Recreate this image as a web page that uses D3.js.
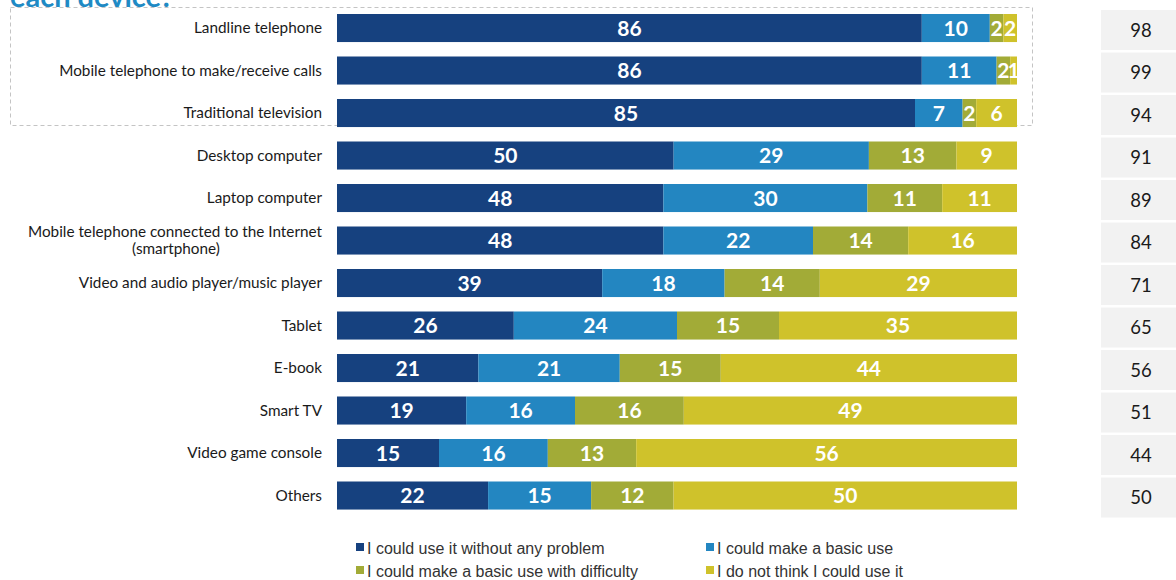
<!DOCTYPE html>
<html lang="en">
<head>
    <meta charset="UTF-8"/>
    <title>Device use</title>
    <script src="https://d3js.org/d3.v7.min.js"></script>
    <style>
        body { margin: 0; background: #fff; }
        svg { display: block; }
    </style>
</head>
<body>
    <div id="chart"></div>

    <script>
        // categories, top to bottom
        var devices = ["Landline telephone", "Mobile telephone to make/receive calls", "Traditional television",
            "Desktop computer", "Laptop computer", "Mobile telephone connected to the Internet\n(smartphone)",
            "Video and audio player/music player", "Tablet", "E-book", "Smart TV", "Video game console", "Others"];

        var withoutProblem = [86, 86, 85, 50, 48, 48, 39, 26, 21, 19, 15, 22];
        var basicUse       = [10, 11, 7, 29, 30, 22, 18, 24, 21, 16, 16, 15];
        var withDifficulty = [2, 2, 2, 13, 11, 14, 14, 15, 15, 16, 13, 12];
        var couldNotUse    = [2, 1, 6, 9, 11, 16, 29, 35, 44, 49, 56, 50];
        var totals         = [98, 99, 94, 91, 89, 84, 71, 65, 56, 51, 44, 50];

        var seriesNames = ["I could use it without any problem", "I could make a basic use",
            "I could make a basic use with difficulty", "I do not think I could use it"];
        var colours = ["#16417f", "#2386c1", "#a2ab37", "#cfc22b"];

        var w = 1176, h = 580;
        var barLeft = 337, barRight = 1017;

        var rows = devices.map(function(d, i) {
            return { device: d, a: withoutProblem[i], b: basicUse[i], c: withDifficulty[i], d: couldNotUse[i], total: totals[i] };
        });
        var keys = ["a", "b", "c", "d"];

        var stack = d3.stack().keys(keys).offset(d3.stackOffsetExpand);
        var layers = stack(rows);

        var x = d3.scaleLinear().domain([0, 1]).range([barLeft, barRight]);
        var y = d3.scaleBand().domain(devices).range([-0.45, 524]).padding(0.34);
        var colour = d3.scaleOrdinal().domain(keys).range(colours);

        var svg = d3.select("#chart").append("svg")
            .attr("width", w)
            .attr("height", h);

        // title, cut off at the top like the original
        svg.append("text")
            .attr("x", 10)
            .attr("y", 7)
            .attr("font-family", "Lato, sans-serif")
            .attr("font-weight", "bold")
            .attr("font-size", 29)
            .attr("fill", "#1f8ac4")
            .text("each device?");

        // dashed frame round first three rows
        svg.append("rect")
            .attr("x", 10.5).attr("y", 7.5)
            .attr("width", 1022).attr("height", 118)
            .attr("fill", "none")
            .attr("stroke", "#c4c4c4")
            .attr("stroke-dasharray", "4,3");

        var groups = svg.selectAll("g.layer")
            .data(layers)
            .enter().append("g")
            .attr("class", "layer")
            .attr("fill", function(d) { return colour(d.key); });

        groups.selectAll("rect")
            .data(function(d) { return d; })
            .enter().append("rect")
            .attr("x", function(d) { return x(d[0]); })
            .attr("y", function(d) { return y(d.data.device); })
            .attr("width", function(d) { return x(d[1]) - x(d[0]); })
            .attr("height", y.bandwidth());

        groups.selectAll("text")
            .data(function(d) { return d.map(function(p) { p.key = d.key; return p; }); })
            .enter().append("text")
            .attr("x", function(d) { return (x(d[0]) + x(d[1])) / 2; })
            .attr("y", function(d) { return y(d.data.device) + y.bandwidth() / 2; })
            .attr("dy", "0.36em")
            .attr("text-anchor", "middle")
            .attr("font-family", "Lato, sans-serif")
            .attr("font-weight", "bold")
            .attr("font-size", 21)
            .attr("fill", "#fff")
            .text(function(d) { return d.data[d.key]; });

        // category labels
        svg.selectAll("text.cat")
            .data(devices)
            .enter().append("text")
            .attr("class", "cat")
            .attr("font-family", "Lato, sans-serif")
            .attr("font-size", 15.3)
            .attr("fill", "#1a1a1a")
            .each(function(d) {
                var lines = d.split("\n");
                var t = d3.select(this);
                var cy = y(d) + y.bandwidth() / 2;
                lines.forEach(function(l, i) {
                    var off = (i - (lines.length - 1) / 2) * 17;
                    t.append("tspan")
                        .attr("x", lines.length > 1 && i > 0 ? 176 : 322)
                        .attr("text-anchor", lines.length > 1 && i > 0 ? "middle" : "end")
                        .attr("y", cy + off)
                        .attr("dy", "0.35em")
                        .text(l);
                });
            });

        // right column of totals
        var tot = svg.selectAll("g.tot")
            .data(rows)
            .enter().append("g")
            .attr("class", "tot");

        tot.append("rect")
            .attr("x", 1101)
            .attr("y", function(d) { return y(d.device) + y.bandwidth() / 2 - 18; })
            .attr("width", 80)
            .attr("height", 40)
            .attr("fill", "#f2f2f2");

        tot.append("text")
            .attr("x", 1141)
            .attr("y", function(d) { return y(d.device) + y.bandwidth() / 2 + 2; })
            .attr("dy", "0.36em")
            .attr("text-anchor", "middle")
            .attr("font-family", "Lato, sans-serif")
            .attr("font-size", 18.5)
            .attr("fill", "#1a1a1a")
            .text(function(d) { return d.total; });

        // legend
        var legend = svg.selectAll("g.legend")
            .data(seriesNames)
            .enter().append("g")
            .attr("class", "legend")
            .attr("transform", function(d, i) {
                return "translate(" + (i % 2 === 0 ? 356 : 706) + "," + (i < 2 ? 548 : 571) + ")";
            });

        legend.append("rect")
            .attr("x", 0).attr("y", -5)
            .attr("width", 8).attr("height", 8)
            .attr("fill", function(d, i) { return colours[i]; });

        legend.append("text")
            .attr("x", 11)
            .attr("y", 0)
            .attr("dy", "0.35em")
            .attr("font-family", "Liberation Sans, Arial, sans-serif")
            .attr("font-size", 16)
            .attr("fill", "#333")
            .text(function(d) { return d; });
    </script>
</body>
</html>
